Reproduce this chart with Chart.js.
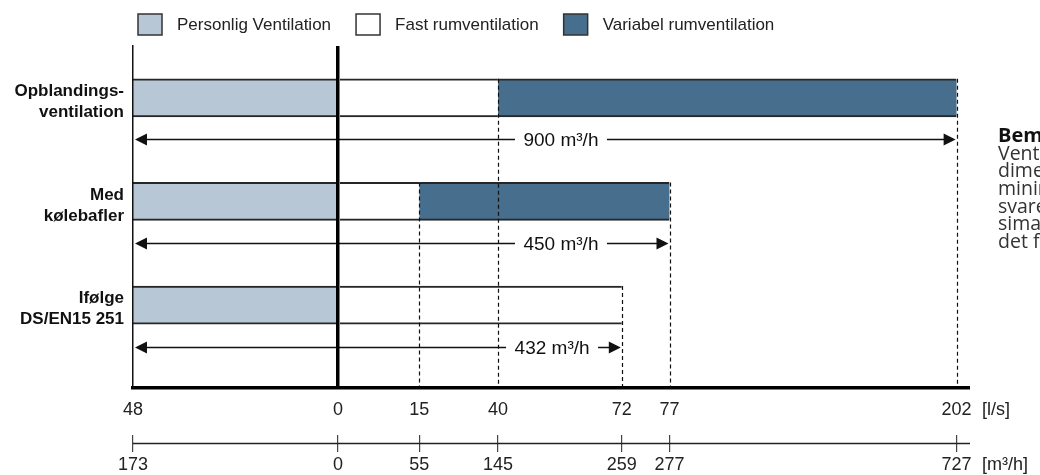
<!DOCTYPE html>
<html lang="da">
<head>
<meta charset="utf-8">
<title>Ventilationsbehov</title>
<script src="https://cdn.jsdelivr.net/npm/chart.js@4.4.1/dist/chart.umd.min.js"></script>
<style>
    html, body { margin: 0; padding: 0; background: #ffffff; }
    #chart-wrap { position: relative; width: 1040px; height: 475px; }
</style>
</head>
<body>
<div id="chart-wrap"><canvas id="ventChart"></canvas></div>
<script>
// --- Data (l/s unless noted) ---
const categories = [['Opblandings-', 'ventilation'], ['Med', 'kølebafler'], ['Ifølge', 'DS/EN15 251']];
const seriesNames = ['Personlig Ventilation', 'Fast rumventilation', 'Variabel rumventilation'];
const personligLs = [48, 48, 48];         // drawn to the left of 0
const fastEndLs = [40, 15, 72];           // fast rumventilation: 0 -> value
const variabelEndLs = [202, 77, null];    // variabel rumventilation: fast end -> value
const totalM3h = [900, 450, 432];
const lsTicks = [-48, 0, 15, 40, 72, 77, 202];
const m3hTicks = [-173, 0, 55, 145, 259, 277, 727];
const noteTitle = 'Bemærk:';
const noteLines = ['Ventilationen er', 'dimensioneret efter', 'minimumskravet', 'svarende til mak-', 'simal belastning i', 'det fulde rum.'];

// --- Look ---
const FONT = '"Liberation Sans", Arial, sans-serif';
const colors = ['#b7c7d6', '#ffffff', '#476e8c'];
// the drawing is schematic: each break value sits at a fixed share of the axis width
const axisStops = [0, 0.245, 0.342, 0.436, 0.584, 0.641, 0.984];
const axisBreaks = { x: lsTicks, x2: m3hTicks };
const labelAnchorLs = [46.6, 46.6, 44.3];

// --- Piecewise linear axis ---
class BreakScale extends Chart.LinearScale {
    toDecimal(v) {
        const b = axisBreaks[this.id];
        let i = 1;
        while (i < b.length - 1 && v > b[i]) i++;
        const t = (v - b[i - 1]) / (b[i] - b[i - 1]);
        return axisStops[i - 1] + t * (axisStops[i] - axisStops[i - 1]);
    }
    getPixelForValue(v) {
        if (v === null || v === undefined) return NaN;
        return this.getPixelForDecimal(this.toDecimal(v));
    }
    getValueForPixel(px) {
        const b = axisBreaks[this.id];
        const d = this.getDecimalForPixel(px);
        let i = 1;
        while (i < axisStops.length - 1 && d > axisStops[i]) i++;
        const t = (d - axisStops[i - 1]) / (axisStops[i] - axisStops[i - 1]);
        return b[i - 1] + t * (b[i] - b[i - 1]);
    }
}
BreakScale.id = 'breaks';
BreakScale.defaults = Chart.LinearScale.defaults;
Chart.register(BreakScale);

// --- Datasets ---
const personligData = personligLs.map((v, i) => ({ y: i, x: [-v, 0] }));
const fastData = fastEndLs.map((v, i) => ({ y: i, x: [0, v] }));
const variabelData = [];
variabelEndLs.forEach((v, i) => { if (v !== null) variabelData.push({ y: i, x: [fastEndLs[i], v] }); });

// --- Plugins ---
const legendRow = {
    id: 'legendRow',
    afterDraw(chart) {
        const ctx = chart.ctx;
        ctx.save();
        ctx.font = '17px ' + FONT;
        ctx.textBaseline = 'middle';
        let x = 138;
        chart.data.datasets.forEach(ds => {
            ctx.fillStyle = ds.backgroundColor;
            ctx.fillRect(x, 14, 24, 21);
            ctx.lineWidth = 1.5;
            ctx.strokeStyle = '#333';
            ctx.strokeRect(x, 14, 24, 21);
            ctx.fillStyle = '#222';
            ctx.fillText(ds.label, x + 39, 25);
            x += 39 + ctx.measureText(ds.label).width + 25;
        });
        ctx.restore();
    }
};

function arrowHead(ctx, x, y, dir) {
    ctx.beginPath();
    ctx.moveTo(x, y);
    ctx.lineTo(x - dir * 12, y - 6);
    ctx.lineTo(x - dir * 12, y + 6);
    ctx.closePath();
    ctx.fill();
}

const ventMarks = {
    id: 'ventMarks',
    afterDatasetsDraw(chart) {
        const { ctx, chartArea, scales: { x, y } } = chart;
        const half = chart.options.datasets.bar.barThickness / 2;
        ctx.save();

        // dashed drop lines from the bar edges down to the axis
        ctx.setLineDash([4, 3]);
        ctx.lineWidth = 1.2;
        ctx.strokeStyle = '#111';
        categories.forEach((c, i) => {
            const top = y.getPixelForValue(i) - half;
            [fastEndLs[i], variabelEndLs[i]].forEach(v => {
                if (v === null) return;
                const px = Math.round(x.getPixelForValue(v)) + 0.5;
                ctx.beginPath();
                ctx.moveTo(px, top);
                ctx.lineTo(px, chartArea.bottom);
                ctx.stroke();
            });
        });

        // total flow arrows
        ctx.setLineDash([]);
        ctx.lineWidth = 1.6;
        ctx.strokeStyle = ctx.fillStyle = '#111';
        ctx.font = '19px ' + FONT;
        ctx.textBaseline = 'middle';
        categories.forEach((c, i) => {
            const end = variabelEndLs[i] !== null ? variabelEndLs[i] : fastEndLs[i];
            const x0 = x.getPixelForValue(-personligLs[i]) + 2;
            const x1 = x.getPixelForValue(end) - 1;
            const yy = Math.round(y.getPixelForValue(i + 0.4)) + 0.5;
            ctx.beginPath();
            ctx.moveTo(x0 + 8, yy);
            ctx.lineTo(x1 - 8, yy);
            ctx.stroke();
            arrowHead(ctx, x0, yy, -1);
            arrowHead(ctx, x1, yy, 1);

            const text = totalM3h[i] + ' m³/h';
            const tx = x.getPixelForValue(labelAnchorLs[i]);
            const w = ctx.measureText(text).width;
            ctx.fillStyle = '#ffffff';
            ctx.fillRect(tx - 8.5, yy - 10, w + 17, 20);
            ctx.fillStyle = '#111';
            ctx.fillText(text, tx, yy + 1);
        });
        ctx.restore();
    }
};

const axisExtras = {
    id: 'axisExtras',
    afterDraw(chart) {
        const { ctx, scales: { x, x2 } } = chart;
        ctx.save();
        // m3/h axis line through its tick marks
        ctx.lineWidth = 1.5;
        ctx.strokeStyle = '#222';
        ctx.beginPath();
        ctx.moveTo(x2.left, x2.top + 8.5);
        ctx.lineTo(x2.right, x2.top + 8.5);
        ctx.stroke();

        // units
        ctx.fillStyle = '#222';
        ctx.font = '18px ' + FONT;
        ctx.textBaseline = 'middle';
        ctx.fillText('[l/s]', x.right + 12, x.top + 11 + 10.8);
        ctx.fillText('[m³/h]', x.right + 12, x2.top + 17 + 2 + 10.8);

        // side note (runs off the right edge)
        ctx.font = 'bold 20px "Open Sans", ' + FONT;
        ctx.fillStyle = '#111';
        ctx.fillText(noteTitle, 998, 136);
        ctx.font = '19.5px "Open Sans", ' + FONT;
        ctx.fillStyle = '#333';
        noteLines.forEach((line, i) => ctx.fillText(line, 998, 154 + i * 17.7));
        ctx.restore();
    }
};

// --- Chart ---
const ctx = document.getElementById('ventChart').getContext('2d');
new Chart(ctx, {
    type: 'bar',
    data: {
        datasets: [
            { label: seriesNames[0], data: personligData, backgroundColor: colors[0] },
            { label: seriesNames[1], data: fastData, backgroundColor: colors[1] },
            { label: seriesNames[2], data: variabelData, backgroundColor: colors[2] }
        ]
    },
    options: {
        indexAxis: 'y',
        responsive: true,
        maintainAspectRatio: false,
        animation: false,
        events: [],
        layout: { padding: { top: 46, right: 70, bottom: 0, left: 0 } },
        datasets: {
            bar: {
                grouped: false,
                barThickness: 38,
                borderSkipped: false,
                borderColor: '#262626',
                borderWidth: { top: 2, bottom: 2, left: 0, right: 0 }
            }
        },
        plugins: { legend: { display: false }, tooltip: { enabled: false } },
        scales: {
            y: {
                type: 'linear',
                position: 'left',
                reverse: true,
                offset: false,
                min: -0.5,
                max: 2.8,
                afterBuildTicks: s => { s.ticks = categories.map((c, i) => ({ value: i })); },
                afterFit: s => { s.width = 133; },
                ticks: {
                    callback: v => categories[v],
                    font: { family: FONT, size: 17, weight: 'bold', lineHeight: 1.24 },
                    color: '#111',
                    padding: 9,
                    labelOffset: 4
                },
                grid: { display: false, drawTicks: false, offset: false },
                border: { display: true, color: '#111', width: 1.5, z: 1 }
            },
            x: {
                type: 'breaks',
                position: 'bottom',
                weight: 0,
                z: 1,
                afterBuildTicks: s => { s.ticks = lsTicks.map(v => ({ value: v })); },
                afterFit: s => { s.height = 47; },
                ticks: {
                    autoSkip: false,
                    maxRotation: 0,
                    callback: v => Math.abs(v),
                    font: { family: FONT, size: 18 },
                    color: '#222',
                    padding: 11
                },
                grid: {
                    z: 1,
                    drawTicks: false,
                    color: '#000',
                    lineWidth: c => (c.tick && c.tick.value === 0 ? 3.5 : 0)
                },
                border: { display: true, color: '#000', width: 3.5, z: 1 }
            },
            x2: {
                type: 'breaks',
                position: 'bottom',
                axis: 'x',
                weight: 1,
                afterBuildTicks: s => { s.ticks = m3hTicks.map(v => ({ value: v })); },
                afterFit: s => { s.height = 40; },
                ticks: {
                    autoSkip: false,
                    maxRotation: 0,
                    callback: v => Math.abs(v),
                    font: { family: FONT, size: 18 },
                    color: '#222',
                    padding: 2
                },
                grid: { drawOnChartArea: false, drawTicks: true, tickLength: 17, color: '#444', lineWidth: 1.2 },
                border: { display: false }
            }
        }
    },
    plugins: [legendRow, ventMarks, axisExtras]
});
</script>
</body>
</html>
